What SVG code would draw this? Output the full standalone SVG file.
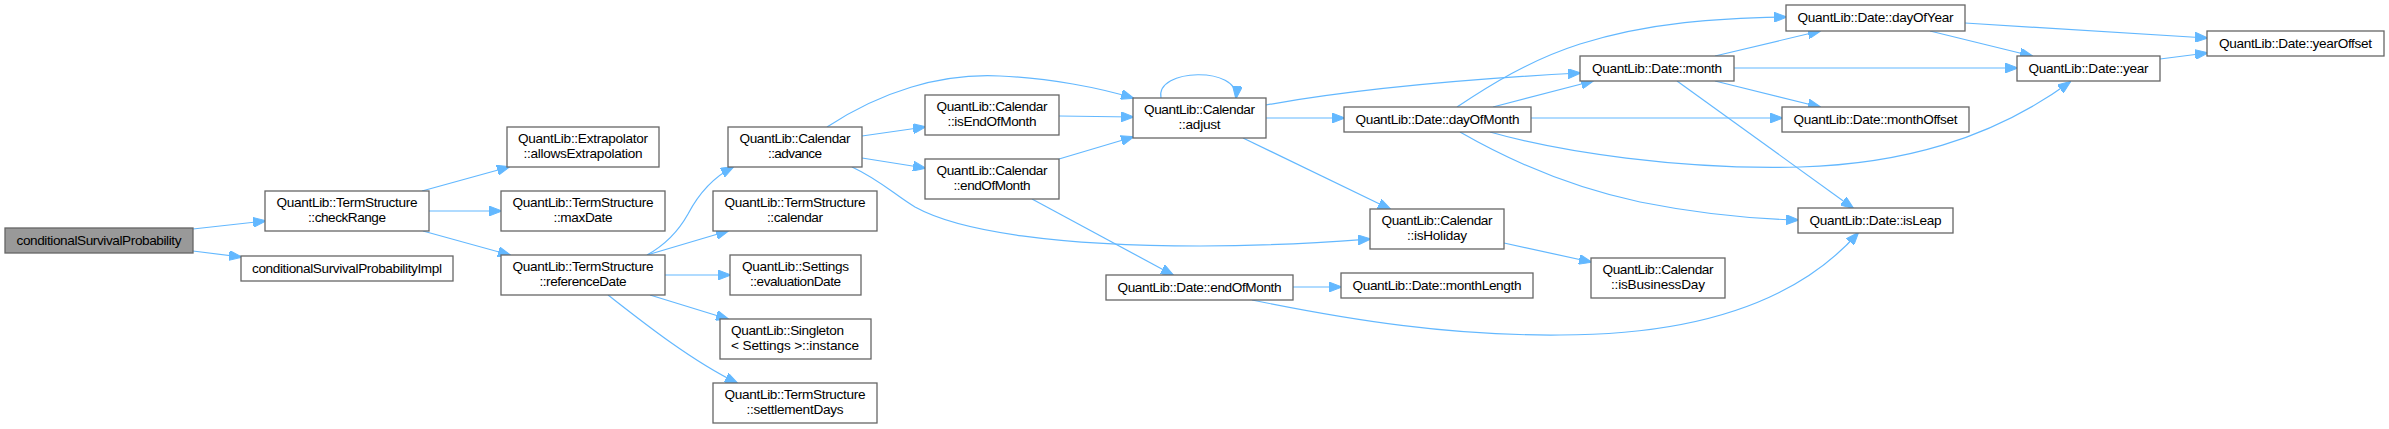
<svg xmlns="http://www.w3.org/2000/svg" width="2389" height="429" viewBox="0 0 2389 429">
<style>
.n rect{fill:#ffffff;stroke:#666666;stroke-width:1.3}
.n.main rect{fill:#999999}
.n text{font-family:"Liberation Sans",Arial,sans-serif;font-size:13.6px;fill:#000000;text-anchor:middle}
.n text.l{text-anchor:start}
#edges path{fill:none;stroke:#63b8ff;stroke-width:1.2;marker-end:url(#arr)}
</style>
<defs>
<marker id="arr" viewBox="0 0 13 10" refX="12" refY="5" markerWidth="13" markerHeight="10" markerUnits="userSpaceOnUse" orient="auto">
<path d="M0,0 L13,5 L0,10 z" fill="#63b8ff" stroke="#63b8ff" stroke-width="1"/>
</marker>
</defs>
<rect x="0" y="0" width="2389" height="429" fill="#ffffff"/>
<g id="edges">
<path d="M193,229 L265,221"/>
<path d="M193,251 L241,257"/>
<path d="M422,191 L509,167"/>
<path d="M429,211 L501,211"/>
<path d="M423,231 L510,255"/>
<path d="M647,255 C665,245 678,232 688,214 C698,195 712,178 733,167"/>
<path d="M647,255 L728,231"/>
<path d="M665,275 L730,275"/>
<path d="M650,295 L728,319"/>
<path d="M608,295 C640,320 690,360 737,383"/>
<path d="M827,127 C880,92 940,73 1000,76 C1050,78 1100,88 1133,98"/>
<path d="M862,136 L925,127"/>
<path d="M862,158 L925,168"/>
<path d="M852,167 C880,180 895,195 915,207 C960,232 1060,246 1200,246 C1280,246 1330,242 1370,239"/>
<path d="M1059,116 L1133,117"/>
<path d="M1059,159 L1133,137"/>
<path d="M1032,199 L1173,275"/>
<path d="M1161,98 C1155,68 1240,66 1236,98"/>
<path d="M1266,105 C1350,90 1450,80 1580,73"/>
<path d="M1266,118 L1344,118"/>
<path d="M1243,138 L1390,209"/>
<path d="M1457,107 C1490,85 1530,60 1580,44 C1650,22 1720,18 1786,17"/>
<path d="M1493,107 L1593,81"/>
<path d="M1531,118 L1782,118"/>
<path d="M1490,132 C1560,152 1680,170 1800,167 C1900,164 1990,140 2070,82"/>
<path d="M1460,132 C1500,155 1560,185 1640,202 C1700,214 1760,219 1798,220"/>
<path d="M1715,56 L1820,31"/>
<path d="M1734,68 L2017,68"/>
<path d="M1715,81 L1820,107"/>
<path d="M1677,81 L1853,208"/>
<path d="M1965,23 L2207,38"/>
<path d="M1930,31 L2032,56"/>
<path d="M2160,59 L2207,53"/>
<path d="M1504,243 L1591,262"/>
<path d="M1293,287 L1341,287"/>
<path d="M1252,300 C1350,320 1450,336 1560,335 C1680,335 1790,310 1858,233"/>
</g>
<g id="n0" class="n main"><rect x="5" y="228" width="188" height="25"/><text x="99" y="245" textLength="165">conditionalSurvivalProbability</text></g>
<g id="n1" class="n"><rect x="265" y="191" width="164" height="40"/><text x="347" y="207" textLength="141">QuantLib::TermStructure</text><text x="347" y="222" textLength="78">::checkRange</text></g>
<g id="n2" class="n"><rect x="241" y="256" width="212" height="25"/><text x="347" y="273" textLength="190">conditionalSurvivalProbabilityImpl</text></g>
<g id="n3" class="n"><rect x="507" y="127" width="152" height="40"/><text x="583" y="143" textLength="130">QuantLib::Extrapolator</text><text x="583" y="158" textLength="119">::allowsExtrapolation</text></g>
<g id="n4" class="n"><rect x="501" y="191" width="164" height="40"/><text x="583" y="207" textLength="141">QuantLib::TermStructure</text><text x="583" y="222" textLength="59">::maxDate</text></g>
<g id="n5" class="n"><rect x="501" y="255" width="164" height="40"/><text x="583" y="271" textLength="141">QuantLib::TermStructure</text><text x="583" y="286" textLength="87">::referenceDate</text></g>
<g id="n6" class="n"><rect x="728" y="127" width="134" height="40"/><text x="795" y="143" textLength="111">QuantLib::Calendar</text><text x="795" y="158" textLength="54">::advance</text></g>
<g id="n7" class="n"><rect x="713" y="191" width="164" height="40"/><text x="795" y="207" textLength="141">QuantLib::TermStructure</text><text x="795" y="222" textLength="56">::calendar</text></g>
<g id="n8" class="n"><rect x="730" y="255" width="131" height="40"/><text x="795.5" y="271" textLength="107">QuantLib::Settings</text><text x="795.5" y="286" textLength="91">::evaluationDate</text></g>
<g id="n9" class="n"><rect x="720" y="319" width="151" height="40"/><text class="l" x="731" y="335" textLength="113">QuantLib::Singleton</text><text class="l" x="731" y="350" textLength="128">&lt; Settings &gt;::instance</text></g>
<g id="n10" class="n"><rect x="713" y="383" width="164" height="40"/><text x="795" y="399" textLength="141">QuantLib::TermStructure</text><text x="795" y="414" textLength="97">::settlementDays</text></g>
<g id="n11" class="n"><rect x="925" y="95" width="134" height="40"/><text x="992" y="111" textLength="111">QuantLib::Calendar</text><text x="992" y="126" textLength="89">::isEndOfMonth</text></g>
<g id="n12" class="n"><rect x="925" y="159" width="134" height="40"/><text x="992" y="175" textLength="111">QuantLib::Calendar</text><text x="992" y="190" textLength="77">::endOfMonth</text></g>
<g id="n13" class="n"><rect x="1133" y="98" width="133" height="40"/><text x="1199.5" y="114" textLength="111">QuantLib::Calendar</text><text x="1199.5" y="129" textLength="42">::adjust</text></g>
<g id="n14" class="n"><rect x="1344" y="107" width="187" height="25"/><text x="1437.5" y="124" textLength="164">QuantLib::Date::dayOfMonth</text></g>
<g id="n15" class="n"><rect x="1370" y="209" width="134" height="40"/><text x="1437" y="225" textLength="111">QuantLib::Calendar</text><text x="1437" y="240" textLength="60">::isHoliday</text></g>
<g id="n16" class="n"><rect x="1106" y="275" width="187" height="25"/><text x="1199.5" y="292" textLength="164">QuantLib::Date::endOfMonth</text></g>
<g id="n17" class="n"><rect x="1341" y="273" width="192" height="25"/><text x="1437" y="290" textLength="169">QuantLib::Date::monthLength</text></g>
<g id="n18" class="n"><rect x="1786" y="5" width="179" height="26"/><text x="1875.5" y="22" textLength="156">QuantLib::Date::dayOfYear</text></g>
<g id="n19" class="n"><rect x="1580" y="56" width="154" height="25"/><text x="1657" y="73" textLength="130">QuantLib::Date::month</text></g>
<g id="n20" class="n"><rect x="1782" y="107" width="187" height="25"/><text x="1875.5" y="124" textLength="164">QuantLib::Date::monthOffset</text></g>
<g id="n21" class="n"><rect x="1798" y="208" width="155" height="25"/><text x="1875.5" y="225" textLength="132">QuantLib::Date::isLeap</text></g>
<g id="n22" class="n"><rect x="2017" y="56" width="143" height="25"/><text x="2088.5" y="73" textLength="120">QuantLib::Date::year</text></g>
<g id="n23" class="n"><rect x="2207" y="31" width="177" height="25"/><text x="2295.5" y="48" textLength="153">QuantLib::Date::yearOffset</text></g>
<g id="n24" class="n"><rect x="1591" y="258" width="134" height="40"/><text x="1658" y="274" textLength="111">QuantLib::Calendar</text><text x="1658" y="289" textLength="94">::isBusinessDay</text></g>
</svg>
